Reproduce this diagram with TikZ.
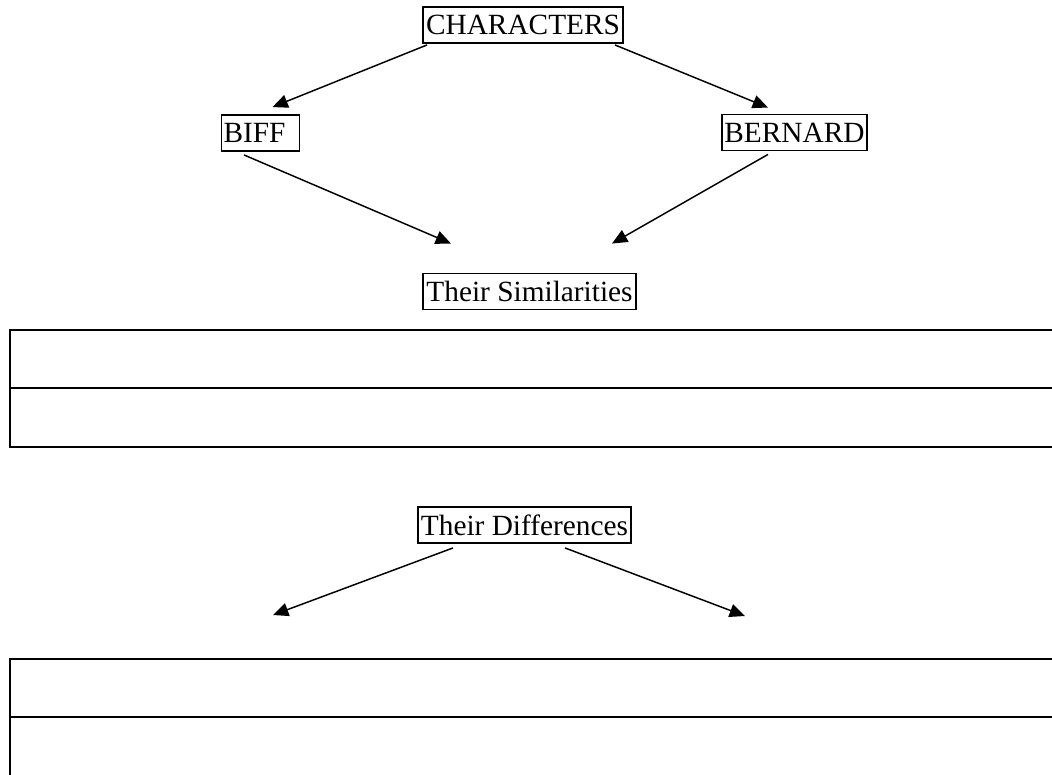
\documentclass[tikz,border=0pt]{standalone}
\usepackage{fontspec}
\setmainfont{Liberation Serif}
\usetikzlibrary{arrows.meta}
\tikzstyle{tag} = [rectangle, minimum height=27pt, inner sep=1.5pt, text centered, draw=black,
line width=1.4pt, font=\fontsize{22}{26}\selectfont]
\tikzstyle{arrow} = [line width=1.1pt, -{Triangle[length=11.5pt,width=10pt]}]
\tikzstyle{rule} = [line width=1.6pt]

\begin{document}
\begin{tikzpicture}[x=0.75pt, y=-0.75pt]

    \useasboundingbox (0,0) rectangle (1052,774);
    \clip (0,0) rectangle (1052,774);

    \node (chars) [tag, minimum width=150pt] at (523,25) {CHARACTERS};

    \node (biff) [tag, text width=55.5pt, align=left] at (260.5,133) {BIFF};
    \node (bernard) [tag, minimum width=107pt] at (794.5,132.5) {BERNARD};

    \node (simil) [tag, minimum width=160pt] at (529.5,291.5) {Their Similarities};
    \node (diffs) [tag, minimum width=160pt] at (524.5,525) {Their Differences};

    \coordinate (diffsLeft) at (273,615);
    \coordinate (diffsRight) at (745,616);

    \draw[arrow] ([shift={(5,1)}]chars.south west) -- ([shift={(12,-7)}]biff.north);
    \draw[arrow] ([shift={(-9,1)}]chars.south east) -- ([shift={(-26.5,-6)}]bernard.north);

    \draw[arrow] ([shift={(-16.5,3)}]biff.south) -- ([shift={(-78.5,-29)}]simil.north);
    \draw[arrow] ([shift={(-26.5,3)}]bernard.south) -- ([shift={(82.5,-29)}]simil.north);

    \draw[arrow] ([shift={(-71.5,4)}]diffs.south) -- (diffsLeft);
    \draw[arrow] ([shift={(40.5,4)}]diffs.south) -- (diffsRight);

    % similarities table
    \draw[rule] (1060,330) -- (10,330) -- (10,447) -- (1060,447);
    \draw[rule] (10,388) -- (1060,388);

    % differences table
    \draw[rule] (1060,659) -- (10,659) -- (10,780);
    \draw[rule] (10,717) -- (1060,717);

\end{tikzpicture}
\end{document}
